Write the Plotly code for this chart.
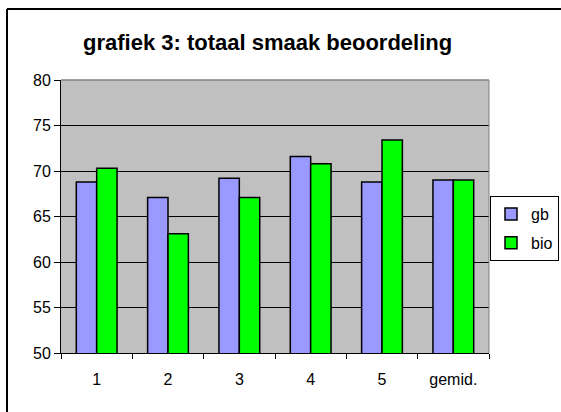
import plotly.graph_objects as go

categories = ["1", "2", "3", "4", "5", "gemid."]
gb = [68.8, 67.1, 69.2, 71.6, 68.8, 69.0]
bio = [70.3, 63.1, 67.1, 70.8, 73.4, 69.0]
title_text = "grafiek 3: totaal smaak beoordeling"
y_ticks = [50, 55, 60, 65, 70, 75, 80]

fig = go.Figure()
fig.add_trace(go.Bar(x=categories, y=gb, name="gb", legendgroup="a",
                     marker=dict(color="#9999FF", line=dict(color="black", width=1.5))))
fig.add_trace(go.Bar(x=categories, y=bio, name="bio", legendgroup="b",
                     marker=dict(color="#00FF00", line=dict(color="black", width=1.5))))

fig.update_layout(
    width=561, height=412,
    margin=dict(l=61, r=72, t=80, b=59, autoexpand=False),
    paper_bgcolor="white",
    plot_bgcolor="#C0C0C0",
    font=dict(family="Liberation Sans, Arial", size=16, color="black"),
    title=dict(text="<b>" + title_text + "</b>", x=0.477, xanchor="center",
               y=0.898, yanchor="middle", font=dict(size=22, color="black")),
    barmode="group",
    bargap=0.4286,
    bargroupgap=0,
    showlegend=True,
    legend=dict(xref="container", yref="container", x=490 / 561, y=1 - 196 / 412,
                xanchor="left", yanchor="top",
                bordercolor="black", borderwidth=1, bgcolor="white",
                font=dict(size=16), itemwidth=30, traceorder="grouped",
                tracegroupgap=5),
    xaxis=dict(showgrid=False, showline=True, linecolor="black", linewidth=1,
               ticks="outside", tickson="boundaries", ticklen=5, tickcolor="black",
               tickfont=dict(size=16), ticklabelstandoff=12),
    yaxis=dict(range=[50, 80], tickvals=y_ticks, showgrid=True, gridcolor="black",
               gridwidth=1, showline=True, linecolor="black", linewidth=1,
               ticks="outside", ticklen=6, tickcolor="black", zeroline=False,
               tickfont=dict(size=16)),
    shapes=[
        dict(type="line", xref="paper", yref="paper", x0=1, x1=1, y0=0, y1=1,
             line=dict(color="#808080", width=1)),
        dict(type="line", xref="paper", yref="paper", x0=0, x1=1, y0=1, y1=1,
             line=dict(color="#808080", width=1.5)),
        # outer chart border (left and top edges visible)
        dict(type="line", xref="paper", yref="paper",
             x0=(7 - 61) / 428, x1=(7 - 61) / 428,
             y0=(353 - 412) / 273, y1=(353 - 9) / 273,
             line=dict(color="black", width=2)),
        dict(type="line", xref="paper", yref="paper",
             x0=(7 - 61) / 428, x1=(561 - 61) / 428,
             y0=(353 - 9) / 273, y1=(353 - 9) / 273,
             line=dict(color="black", width=2)),
    ],
)

fig.write_html("out.html", config={"displayModeBar": False},
               post_script="document.body.style.margin='0px';")
